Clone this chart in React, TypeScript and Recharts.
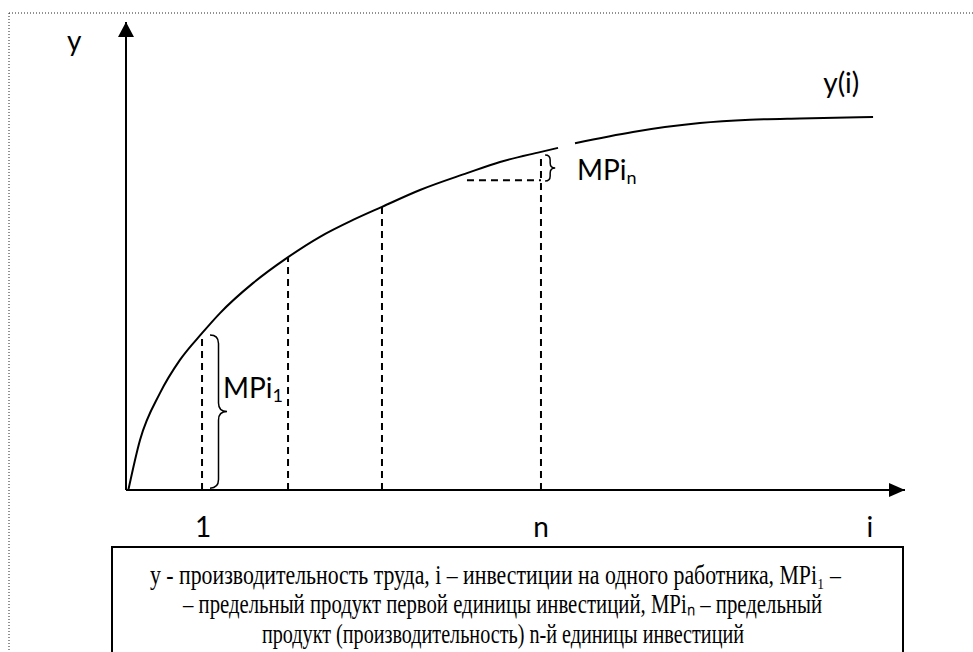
import React from "react";
import {
  ComposedChart,
  Line,
  XAxis,
  YAxis,
  ReferenceLine,
  ReferenceDot,
  ReferenceArea,
} from "recharts";

// curve y(i); both axes run 0..100
const curveI = [0.3, 1.8, 4.36, 6.93, 9.76, 12.07, 16.3, 20.67, 24.9, 29.14, 32.86, 37.74, 43.77, 48.01, 53.15, 55.46, 56.5, 57.64, 65.08, 73.68, 80.1, 86.5, 95.9];
const curveY = [0, 10.7, 20.7, 27.8, 33.5, 37.8, 44.2, 49.6, 54.1, 57.7, 60.5, 64.1, 67.7, 70.1, 72.2, 73.1, null, 74.1, 76.5, 78.4, 79.1, 79.4, 79.7];

// dashed verticals from the axis up to the curve
const dropI = [9.76, 20.8, 32.86, 53.27];
const dropTop = [33.1, 49.6, 60.5, 70.9];

// dashed step under MPi_n
const stepFrom = 43.77;
const stepLevel = 66.2;

// axis labels
const tickValues = [9.9, 53.27, 95.5];
const tickLabels = ["1", "n", "i"];

// braces: [i1, i2, y1, y2]
const braces = [
  [10.78, 12.97, 0.4, 33.1],
  [53.8, 55.1, 66.0, 71.6],
];

// annotations: i, y, text, subscript
const notes = [
  { i: 12.45, y: 19.66, text: "MPi", sub: "1" },
  { i: 57.9, y: 66.2, text: "MPi", sub: "n" },
  { i: 89.5, y: 84.9, text: "y(i)", sub: "" },
];

const captionLines = [
  { text: "у - производительность труда, i – инвестиции на одного работника, MPi₁ –", from: 150, to: 841, base: 584 },
  { text: "– предельный продукт первой единицы инвестиций, MPiₙ – предельный", from: 183, to: 822, base: 613 },
  { text: "продукт (производительность) n-й единицы инвестиций", from: 262, to: 744, base: 643 },
];

const curveData = curveI.map((i, k) => ({ i, y: curveY[k] }));

const FONT = "Lato, 'Open Sans', sans-serif";

const Brace = (props: any) => {
  const { x, y, width: w, height: h } = props;
  const hx = x + w / 2;
  const ym = y + h / 2;
  const r = Math.min(w / 2, h / 4);
  const d = `M${x},${y} Q${hx},${y} ${hx},${y + r} L${hx},${ym - r} Q${hx},${ym} ${x + w},${ym} Q${hx},${ym} ${hx},${ym + r} L${hx},${y + h - r} Q${hx},${y + h} ${x},${y + h}`;
  return <path d={d} fill="none" stroke="#000" strokeWidth={1.5} />;
};

const ArrowUp = ({ cx, cy }: any) => (
  <polygon points={`${cx},${cy} ${cx - 8},${cy + 15} ${cx + 8},${cy + 15}`} fill="#000" />
);

const ArrowRight = ({ cx, cy }: any) => (
  <polygon points={`${cx},${cy} ${cx - 16},${cy - 7} ${cx - 16},${cy + 7}`} fill="#000" />
);

const Note = ({ cx, cy, text, sub }: any) => (
  <text x={cx} y={cy} fontFamily={FONT} fontSize={28} fill="#000">
    {text}
    {sub ? (
      <tspan fontSize={18} dy={4}>
        {sub}
      </tspan>
    ) : null}
  </text>
);

const Tick = ({ x, y, payload }: any) => {
  const k = tickValues.indexOf(payload.value);
  return (
    <text x={x} y={y + 19} textAnchor="middle" fontFamily={FONT} fontSize={28} fill="#000">
      {tickLabels[k]}
    </text>
  );
};

const YLabel = ({ viewBox }: any) => (
  <text x={viewBox.x + 67} y={viewBox.y + 29} fontFamily={FONT} fontSize={28} fill="#000">
    y
  </text>
);

export default function App() {
  return (
    <div style={{ position: "fixed", left: 0, top: 0, width: 973, height: 652, background: "#fff", overflow: "hidden" }}>
      <svg width={973} height={652} style={{ position: "absolute", left: 0, top: 0 }}>
        <line x1={9} y1={13} x2={973} y2={13} stroke="#222" strokeWidth={1} strokeDasharray="1 2" />
        <line x1={9} y1={13} x2={9} y2={652} stroke="#222" strokeWidth={1} strokeDasharray="1 2" />
        <rect x={112} y={547} width={791} height={130} fill="none" stroke="#000" strokeWidth={2} />
        {captionLines.map((l) => (
          <text
            key={l.base}
            x={l.from}
            y={l.base}
            fontFamily="'Liberation Serif', 'Times New Roman', serif"
            fontSize={27}
            fill="#000"
            textLength={l.to - l.from}
            lengthAdjust="spacingAndGlyphs"
          >
            {l.text}
          </text>
        ))}
      </svg>
      <div style={{ position: "absolute", left: 0, top: 0 }}>
        <ComposedChart width={973} height={652} margin={{ top: 22, right: 68, left: 0, bottom: 102 }}>
          <XAxis
            type="number"
            dataKey="i"
            domain={[0, 100]}
            ticks={tickValues}
            tick={<Tick />}
            tickLine={false}
            tickMargin={22}
            height={60}
            axisLine={{ stroke: "#000", strokeWidth: 2 }}
            allowDataOverflow
          />
          <YAxis
            type="number"
            domain={[0, 100]}
            width={126}
            tick={false}
            tickLine={false}
            axisLine={{ stroke: "#000", strokeWidth: 2 }}
            label={<YLabel />}
            allowDataOverflow
          />
          {dropI.map((x, k) => (
            <ReferenceLine
              key={x}
              segment={[{ x, y: 0 }, { x, y: dropTop[k] }]}
              stroke="#000"
              strokeWidth={2}
              strokeDasharray="7 5"
              ifOverflow="visible"
            />
          ))}
          <ReferenceLine
            segment={[{ x: stepFrom, y: stepLevel }, { x: dropI[3], y: stepLevel }]}
            stroke="#000"
            strokeWidth={2}
            strokeDasharray="7 5"
            ifOverflow="visible"
          />
          {braces.map((b, k) => (
            <ReferenceArea key={k} x1={b[0]} x2={b[1]} y1={b[2]} y2={b[3]} shape={<Brace />} ifOverflow="visible" />
          ))}
          <Line
            data={curveData}
            dataKey="y"
            type="monotone"
            stroke="#000"
            strokeWidth={2}
            dot={false}
            activeDot={false}
            connectNulls={false}
            isAnimationActive={false}
          />
          {notes.map((n) => (
            <ReferenceDot
              key={n.text + n.sub}
              x={n.i}
              y={n.y}
              r={1}
              ifOverflow="visible"
              shape={(p: any) => <Note cx={p.cx} cy={p.cy} text={n.text} sub={n.sub} />}
            />
          ))}
          <ReferenceDot x={0} y={100} r={1} ifOverflow="visible" shape={(p: any) => <ArrowUp cx={p.cx} cy={p.cy} />} />
          <ReferenceDot x={100} y={0} r={1} ifOverflow="visible" shape={(p: any) => <ArrowRight cx={p.cx} cy={p.cy} />} />
        </ComposedChart>
      </div>
    </div>
  );
}
